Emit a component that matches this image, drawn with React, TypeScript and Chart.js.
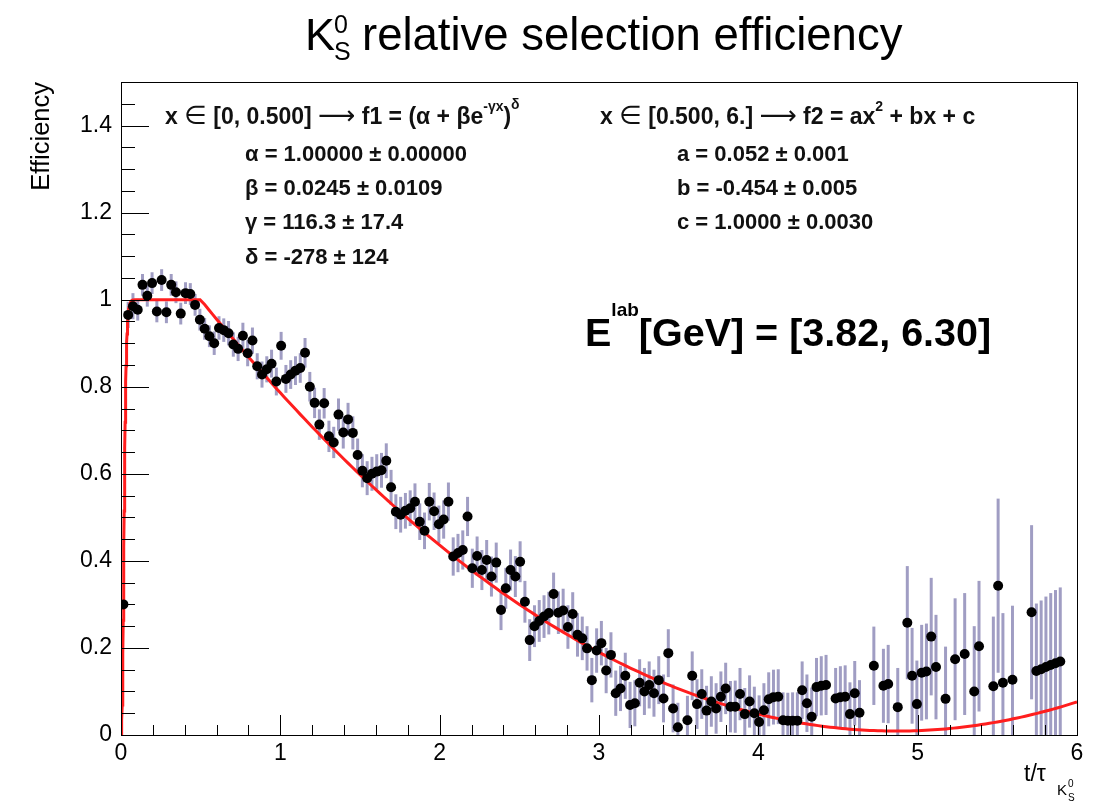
import React, { useEffect, useRef } from "react";
import { Chart, registerables } from "chart.js";
Chart.register(...registerables);

// t/tau bin centres
const binX = [
  0.015, 0.045, 0.075, 0.105, 0.135, 0.165, 0.195, 0.225, 0.255, 0.285,
  0.315, 0.345, 0.375, 0.405, 0.435, 0.465, 0.495, 0.525, 0.555, 0.585,
  0.615, 0.645, 0.675, 0.705, 0.735, 0.765, 0.795, 0.825, 0.855, 0.885,
  0.915, 0.945, 0.975, 1.005, 1.035, 1.065, 1.095, 1.125, 1.155, 1.185,
  1.215, 1.245, 1.275, 1.305, 1.335, 1.365, 1.395, 1.425, 1.455, 1.485,
  1.515, 1.545, 1.575, 1.605, 1.635, 1.665, 1.695, 1.725, 1.755, 1.785,
  1.815, 1.845, 1.875, 1.905, 1.935, 1.965, 1.995, 2.025, 2.055, 2.085,
  2.115, 2.145, 2.175, 2.205, 2.235, 2.265, 2.295, 2.325, 2.355, 2.385,
  2.415, 2.445, 2.475, 2.505, 2.535, 2.565, 2.595, 2.625, 2.655, 2.685,
  2.715, 2.745, 2.775, 2.805, 2.835, 2.865, 2.895, 2.925, 2.955, 2.985,
  3.015, 3.045, 3.075, 3.105, 3.135, 3.165, 3.195, 3.225, 3.255, 3.285,
  3.315, 3.345, 3.375, 3.405, 3.435, 3.465, 3.495, 3.555, 3.585, 3.615,
  3.645, 3.675, 3.705, 3.735, 3.765, 3.795, 3.825, 3.855, 3.885, 3.915,
  3.945, 3.975, 4.005, 4.035, 4.065, 4.095, 4.125, 4.155, 4.185, 4.215,
  4.245, 4.275, 4.305, 4.335, 4.365, 4.395, 4.425, 4.485, 4.515, 4.545,
  4.575, 4.605, 4.635, 4.725, 4.785, 4.815, 4.875, 4.935, 4.965, 4.995,
  5.025, 5.055, 5.085, 5.115, 5.175, 5.235, 5.295, 5.355, 5.385, 5.475,
  5.505, 5.535, 5.595, 5.715, 5.745, 5.775, 5.805, 5.835, 5.865, 5.895,
];

// relative efficiency per bin
const effY = [
  0.30, 0.965, 0.985, 0.977, 1.034, 1.009, 1.038, 0.973, 1.045, 0.971,
  1.034, 1.017, 0.968, 1.015, 1.013, 0.988, 0.954, 0.933, 0.916, 0.900,
  0.935, 0.930, 0.923, 0.897, 0.887, 0.917, 0.877, 0.906, 0.847, 0.828,
  0.840, 0.853, 0.812, 0.894, 0.818, 0.828, 0.837, 0.843, 0.878, 0.800,
  0.763, 0.713, 0.762, 0.686, 0.672, 0.736, 0.695, 0.725, 0.694, 0.643,
  0.607, 0.590, 0.600, 0.605, 0.608, 0.630, 0.569, 0.513, 0.506, 0.515,
  0.521, 0.536, 0.490, 0.469, 0.536, 0.514, 0.484, 0.495, 0.536, 0.410,
  0.418, 0.425, 0.502, 0.383, 0.411, 0.379, 0.402, 0.364, 0.396, 0.287,
  0.337, 0.379, 0.364, 0.398, 0.306, 0.218, 0.250, 0.262, 0.272, 0.280,
  0.324, 0.281, 0.286, 0.248, 0.278, 0.230, 0.222, 0.199, 0.126, 0.194,
  0.211, 0.148, 0.184, 0.096, 0.107, 0.136, 0.069, 0.073, 0.120, 0.100,
  0.115, 0.096, 0.126, 0.084, 0.188, 0.061, 0.018, 0.034, 0.136, 0.071,
  0.094, 0.056, 0.077, 0.061, 0.088, 0.107, 0.065, 0.065, 0.094, 0.048,
  0.077, 0.050, 0.030, 0.057, 0.082, 0.087, 0.088, 0.034, 0.033, 0.033,
  0.033, 0.103, 0.073, 0.042, 0.110, 0.113, 0.115, 0.084, 0.087, 0.088,
  0.048, 0.096, 0.051, 0.159, 0.113, 0.117, 0.064, 0.258, 0.136, 0.071,
  0.143, 0.146, 0.226, 0.156, 0.083, 0.174, 0.186, 0.100, 0.204, 0.112,
  0.343, 0.120, 0.127, 0.282, 0.147, 0.151, 0.156, 0.161, 0.165, 0.169,
];

// symmetric error per bin
const effErr = [
  0.010, 0.030, 0.030, 0.025, 0.025, 0.025, 0.025, 0.025, 0.025, 0.025,
  0.025, 0.025, 0.025, 0.025, 0.025, 0.025, 0.025, 0.025, 0.025, 0.027,
  0.027, 0.027, 0.028, 0.028, 0.028, 0.030, 0.030, 0.030, 0.030, 0.030,
  0.030, 0.032, 0.032, 0.032, 0.032, 0.033, 0.033, 0.034, 0.034, 0.034,
  0.035, 0.035, 0.035, 0.036, 0.036, 0.037, 0.037, 0.038, 0.038, 0.038,
  0.038, 0.039, 0.039, 0.040, 0.040, 0.040, 0.040, 0.040, 0.041, 0.041,
  0.041, 0.042, 0.042, 0.042, 0.043, 0.043, 0.043, 0.044, 0.044, 0.044,
  0.044, 0.045, 0.045, 0.045, 0.045, 0.046, 0.046, 0.046, 0.046, 0.046,
  0.047, 0.047, 0.047, 0.047, 0.048, 0.048, 0.048, 0.048, 0.049, 0.049,
  0.049, 0.049, 0.050, 0.050, 0.050, 0.050, 0.050, 0.051, 0.051, 0.051,
  0.051, 0.052, 0.052, 0.052, 0.052, 0.053, 0.053, 0.053, 0.054, 0.054,
  0.054, 0.054, 0.055, 0.055, 0.055, 0.055, 0.056, 0.056, 0.056, 0.057,
  0.057, 0.057, 0.058, 0.058, 0.058, 0.059, 0.059, 0.060, 0.060, 0.060,
  0.060, 0.061, 0.061, 0.062, 0.062, 0.063, 0.063, 0.064, 0.064, 0.065,
  0.065, 0.066, 0.066, 0.067, 0.067, 0.068, 0.069, 0.070, 0.071, 0.072,
  0.073, 0.074, 0.075, 0.090, 0.085, 0.090, 0.090, 0.130, 0.110, 0.100,
  0.110, 0.110, 0.135, 0.120, 0.120, 0.140, 0.140, 0.150, 0.150, 0.160,
  0.200, 0.160, 0.170, 0.200, 0.155, 0.158, 0.162, 0.165, 0.168, 0.170,
];

// fit parameters shown on the plot
const fitSplit = 0.5;
const f1Alpha = 1.0;
const f1Beta = 0.0245;
const f1Gamma = 116.3;
const f1Delta = -278;
const f2A = 0.052;
const f2B = -0.454;
const f2C = 1.0;

const xTickValues = [0, 1, 2, 3, 4, 5, 6];
const yTickValues = [0, 0.2, 0.4, 0.6, 0.8, 1.0, 1.2, 1.4];

const FONT = '"Liberation Sans", Arial, Helvetica, sans-serif';

function fitCurve() {
  const pts: { x: number; y: number }[] = [];
  for (let i = 0; i <= 250; i++) {
    const x = (fitSplit * i) / 250;
    const y = Math.pow(f1Alpha + f1Beta * Math.exp(-f1Gamma * x), f1Delta);
    pts.push({ x, y });
  }
  for (let i = 1; i <= 220; i++) {
    const x = fitSplit + ((6 - fitSplit) * i) / 220;
    const u = x - fitSplit;
    pts.push({ x, y: f2A * u * u + f2B * u + f2C });
  }
  return pts;
}

function drawRuns(ctx: CanvasRenderingContext2D, x: number, runs: [string, string, number][]) {
  let cx = x;
  for (const [s, font, dy] of runs) {
    ctx.font = font;
    ctx.fillText(s, cx, dy);
    cx += ctx.measureText(s).width;
  }
  return cx;
}

const rootPlugin = {
  id: "rootDecor",
  beforeDatasetsDraw(chart: any) {
    const { ctx, chartArea: ca, scales } = chart;
    const xs = scales.x, ys = scales.y;
    ctx.save();
    ctx.beginPath();
    ctx.rect(ca.left, ca.top, ca.right - ca.left, ca.bottom - ca.top);
    ctx.clip();
    ctx.strokeStyle = "rgba(150,146,188,0.9)";
    ctx.lineWidth = 3;
    for (let i = 0; i < binX.length; i++) {
      const px = xs.getPixelForValue(binX[i]);
      const y1 = ys.getPixelForValue(effY[i] - effErr[i]);
      const y2 = ys.getPixelForValue(effY[i] + effErr[i]);
      ctx.beginPath();
      ctx.moveTo(px, y1);
      ctx.lineTo(px, y2);
      ctx.stroke();
    }
    ctx.restore();
  },
  afterDraw(chart: any) {
    const { ctx, chartArea: ca, scales } = chart;
    const xs = scales.x, ys = scales.y;
    ctx.save();
    // frame
    ctx.strokeStyle = "#000";
    ctx.lineWidth = 1;
    ctx.strokeRect(Math.round(ca.left) + 0.5, Math.round(ca.top) + 0.5, Math.round(ca.right - ca.left), Math.round(ca.bottom - ca.top));
    // y ticks (inside)
    ctx.beginPath();
    for (let k = 0; k <= 30; k++) {
      const v = k * 0.05;
      const py = Math.round(ys.getPixelForValue(v)) + 0.5;
      const len = k % 4 === 0 ? 28 : 14;
      ctx.moveTo(ca.left, py);
      ctx.lineTo(ca.left + len, py);
    }
    // x ticks (inside)
    for (let k = 0; k <= 30; k++) {
      const v = k * 0.2;
      const px = Math.round(xs.getPixelForValue(v)) + 0.5;
      const len = k % 5 === 0 ? 20 : 10;
      ctx.moveTo(px, ca.bottom);
      ctx.lineTo(px, ca.bottom - len);
    }
    ctx.stroke();

    ctx.fillStyle = "#000";
    ctx.textBaseline = "alphabetic";
    ctx.textAlign = "left";
    // title
    ctx.font = `45px ${FONT}`;
    ctx.fillText("K", 305, 50);
    ctx.font = `25px ${FONT}`;
    ctx.fillText("0", 334, 33);
    ctx.fillText("S", 334, 60);
    ctx.font = `45.5px ${FONT}`;
    ctx.fillText("relative selection efficiency", 362, 50);

    // y axis title
    ctx.save();
    ctx.translate(49, 82);
    ctx.rotate(-Math.PI / 2);
    ctx.textAlign = "right";
    ctx.font = `25.5px ${FONT}`;
    ctx.fillText("Efficiency", 0, 0);
    ctx.restore();

    // x axis title
    ctx.font = `23px ${FONT}`;
    ctx.fillText("t/\u03c4", 1024, 781);
    ctx.font = `15px ${FONT}`;
    ctx.fillText("K", 1057, 795);
    ctx.font = `10px ${FONT}`;
    ctx.fillText("0", 1068, 787);
    ctx.fillText("S", 1068, 801);

    // fit legends
    const B = `bold 23px ${FONT}`;
    const BS = `bold 14px ${FONT}`;
    const SYM = `26px "DejaVu Sans", ${FONT}`;
    ctx.fillStyle = "#111";
    drawRuns(ctx, 165, [
      ["x ", B, 124],
      ["\u2208", SYM, 124],
      [" [0, 0.500] ", B, 124],
      ["\u27f6", SYM, 124],
      [" f1 = (\u03b1 + \u03b2e", B, 124],
      ["-\u03b3x", BS, 111],
      [")", B, 124],
      ["\u03b4", BS, 109],
    ]);
    drawRuns(ctx, 600, [
      ["x ", B, 124],
      ["\u2208", SYM, 124],
      [" [0.500, 6.] ", B, 124],
      ["\u27f6", SYM, 124],
      [" f2 = ax", B, 124],
      ["2", BS, 111],
      [" + bx + c", B, 124],
    ]);
    ctx.font = `bold 22px ${FONT}`;
    ctx.fillText("\u03b1 = 1.00000 \u00b1 0.00000", 245, 161);
    ctx.fillText("\u03b2 = 0.0245 \u00b1 0.0109", 245, 195);
    ctx.fillText("\u03b3 = 116.3 \u00b1 17.4", 245, 229);
    ctx.fillText("\u03b4 = -278 \u00b1 124", 245, 264);
    ctx.fillText("a = 0.052 \u00b1 0.001", 677, 161);
    ctx.fillText("b = -0.454 \u00b1 0.005", 677, 195);
    ctx.fillText("c = 1.0000 \u00b1 0.0030", 677, 229);

    // energy range label
    ctx.fillStyle = "#000";
    drawRuns(ctx, 585, [
      ["E", `bold 39.5px ${FONT}`, 346],
      ["lab", `bold 19px ${FONT}`, 316],
      ["[GeV] = [3.82, 6.30]", `bold 39.5px ${FONT}`, 346],
    ]);
    ctx.restore();
  },
};

export default function App() {
  const ref = useRef<HTMLCanvasElement | null>(null);
  useEffect(() => {
    if (!ref.current) return;
    const chart = new Chart(ref.current, {
      type: "scatter",
      data: {
        datasets: [
          {
            type: "line",
            data: fitCurve(),
            borderColor: "rgb(255,30,30)",
            borderWidth: 3,
            pointRadius: 0,
            fill: false,
            tension: 0,
            order: 2,
          } as any,
          {
            type: "scatter",
            data: binX.map((x, i) => ({ x, y: effY[i] })),
            backgroundColor: "#000",
            borderColor: "#000",
            pointRadius: 5,
            borderWidth: 0,
            order: 1,
          },
        ],
      },
      options: {
        responsive: false,
        animation: false,
        devicePixelRatio: 1,
        layout: { padding: { left: 0, right: 25, top: 82, bottom: 0 } },
        plugins: { legend: { display: false }, tooltip: { enabled: false }, title: { display: false } },
        scales: {
          x: {
            type: "linear",
            min: 0,
            max: 6,
            grid: { display: false, drawTicks: false },
            border: { display: false },
            afterFit: (s: any) => { s.height = 67; },
            afterBuildTicks: (s: any) => { s.ticks = xTickValues.map((v) => ({ value: v })); },
            ticks: {
              padding: 5,
              color: "#000",
              font: { family: FONT, size: 23 },
              maxRotation: 0,
              autoSkip: false,
              callback: (v: any) => String(Math.round(Number(v) * 10) / 10),
            },
          },
          y: {
            type: "linear",
            min: 0,
            max: 1.5,
            grid: { display: false, drawTicks: false },
            border: { display: false },
            afterFit: (s: any) => { s.width = 121; },
            afterBuildTicks: (s: any) => { s.ticks = yTickValues.map((v) => ({ value: v })); },
            ticks: {
              padding: 9,
              color: "#000",
              font: { family: FONT, size: 23 },
              autoSkip: false,
              callback: (v: any) => String(Math.round(Number(v) * 10) / 10),
            },
          },
        },
      },
      plugins: [rootPlugin],
    });
    return () => chart.destroy();
  }, []);
  return (
    <div style={{ position: "fixed", left: 0, top: 0, width: 1102, height: 802, background: "#fff" }}>
      <canvas ref={ref} width={1102} height={802} style={{ display: "block" }} />
    </div>
  );
}
